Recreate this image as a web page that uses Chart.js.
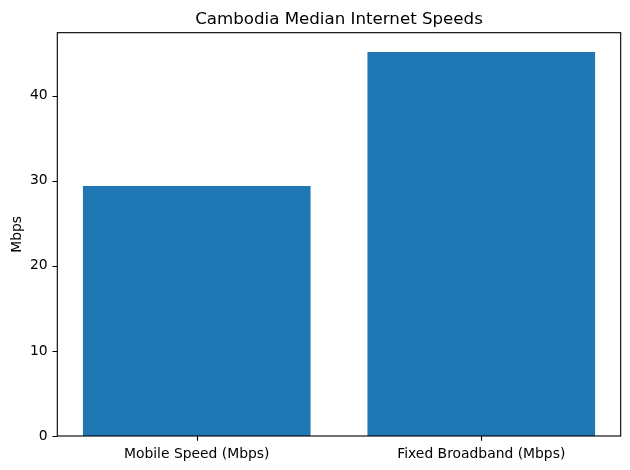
<!DOCTYPE html>
<html>
<head>
<meta charset="utf-8">
<script src="https://cdn.jsdelivr.net/npm/chart.js@4/dist/chart.umd.min.js"></script>
<style>
html,body{margin:0;padding:0;background:#fff;}
#c{display:block;}
</style>
</head>
<body>
<canvas id="c" width="630" height="470"></canvas>
<script>
const categories = ["Mobile Speed (Mbps)", "Fixed Broadband (Mbps)"];
const speeds = [29.38, 45.14];
const yTicks = [0, 10, 20, 30, 40];
const titleText = "Cambodia Median Internet Speeds";
const yLabel = "Mbps";

const FONT = "DejaVu Sans";
const PX = 100/72;
const TICK = 3.5*PX;

const framePlugin = {
  id: 'frame',
  afterDraw(chart) {
    const {ctx, chartArea: a, scales} = chart;
    ctx.save();
    ctx.strokeStyle = '#000';
    ctx.lineWidth = 0.8*PX;
    ctx.strokeRect(a.left, a.top, a.right - a.left, a.bottom - a.top);
    ctx.beginPath();
    categories.forEach((c, i) => {
      const px = Math.round(scales.x.getPixelForValue(i)) + 0.5;
      ctx.moveTo(px, a.bottom);
      ctx.lineTo(px, a.bottom + TICK);
    });
    yTicks.forEach(v => {
      const py = Math.round(scales.y.getPixelForValue(v)) + 0.5;
      ctx.moveTo(a.left, py);
      ctx.lineTo(a.left - TICK, py);
    });
    ctx.stroke();
    ctx.fillStyle = '#000';
    ctx.font = (12*PX) + 'px "' + FONT + '"';
    ctx.textAlign = 'center';
    ctx.textBaseline = 'alphabetic';
    ctx.fillText(titleText, (a.left + a.right)/2, 24.3);
    ctx.font = (10*PX) + 'px "' + FONT + '"';
    ctx.translate(20.5, (a.top + a.bottom)/2);
    ctx.rotate(-Math.PI/2);
    ctx.fillText(yLabel, 0, 0);
    ctx.restore();
  }
};

new Chart(document.getElementById('c'), {
  type: 'bar',
  data: {
    datasets: [{
      data: categories.map((c, i) => ({x: i, y: speeds[i]})),
      backgroundColor: '#1f77b4',
      borderWidth: 0,
      barPercentage: 0.8,
      categoryPercentage: 1.0
    }]
  },
  options: {
    responsive: false,
    animation: false,
    devicePixelRatio: 1,
    layout: {padding: {top: 32.7, right: 9.3, left: 0, bottom: 0}},
    plugins: {legend: {display: false}, tooltip: {enabled: false}, title: {display: false}},
    scales: {
      x: {
        type: 'linear',
        min: -0.49,
        max: 1.49,
        offset: false,
        grid: {display: false, drawTicks: false},
        border: {display: false},
        ticks: {
          color: '#000',
          font: {family: FONT, size: 10*PX},
          padding: TICK + 3.5*PX,
          maxRotation: 0,
          autoSkip: false,
          callback: (v) => categories[v]
        },
        afterBuildTicks: (s) => { s.ticks = categories.map((_, i) => ({value: i})); },
        afterFit: (s) => { s.height = 34; }
      },
      y: {
        min: 0,
        max: 47.4,
        grid: {display: false, drawTicks: false},
        border: {display: false},
        ticks: {
          color: '#000',
          font: {family: FONT, size: 10*PX},
          padding: TICK + 3.5*PX
        },
        afterBuildTicks: (s) => { s.ticks = yTicks.map(v => ({value: v})); },
        afterFit: (s) => { s.width = 57.3; }
      }
    }
  },
  plugins: [framePlugin]
});
</script>
</body>
</html>
